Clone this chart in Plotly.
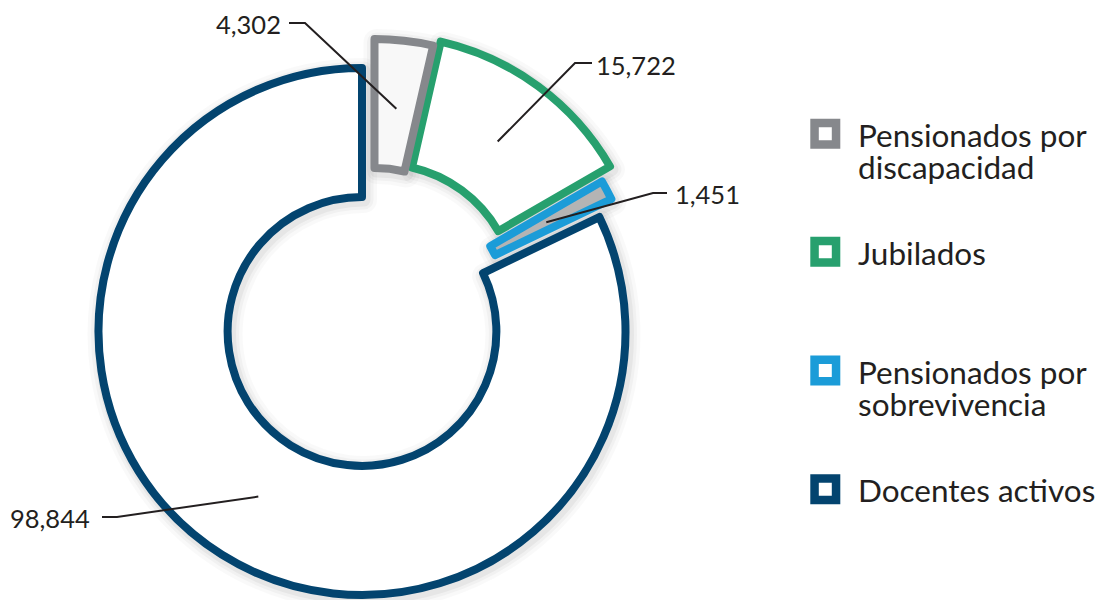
import math
import plotly.graph_objects as go

# ---------------- data ----------------
categories = ["Pensionados por discapacidad", "Jubilados",
              "Pensionados por sobrevivencia", "Docentes activos"]
legend_lines = [["Pensionados por", "discapacidad"], ["Jubilados"],
                ["Pensionados por", "sobrevivencia"], ["Docentes activos"]]
values = [4302, 15722, 1451, 98844]
value_labels = ["4,302", "15,722", "1,451", "98,844"]

# ---------------- style / layout constants ----------------
PAGE_MARGIN = 8              # default body margin of the html page
W, H = 1104 - PAGE_MARGIN, 600 - PAGE_MARGIN
CX, CY = 362, 331.5          # pie centre (window px)
R_OUT = 263.5                # outer radius (px)
HOLE = 0.51
LINE_W = 8
line_colors = ["#86888c", "#27a06e", "#1b9cd8", "#03446f"]
fill_colors = ["#f8f8f8", "#ffffff", "#b4b4b4", "#ffffff"]
shifts = [(12.5, -29), (20, -33), (12, -18), (0, 0)]   # exploded offset (px)
TEXT = "#231f20"
FONT = "Lato"

def px(x):
    return (x - PAGE_MARGIN) / W

def py(y):
    return 1 - (y - PAGE_MARGIN) / H

fig = go.Figure()

def slice_trace(i, dx, dy, fill, lcol, lw):
    n = len(values)
    colors = ["rgba(0,0,0,0)"] * n
    lcols = ["rgba(0,0,0,0)"] * n
    lws = [0] * n
    colors[i] = fill
    lcols[i] = lcol
    lws[i] = lw
    cx, cy = CX + dx, CY + dy
    return go.Pie(
        labels=categories, values=values, sort=False, direction="clockwise",
        rotation=0, hole=HOLE, textinfo="none", hoverinfo="skip",
        showlegend=False,
        marker=dict(colors=colors, line=dict(color=lcols, width=lws)),
        domain=dict(x=[px(cx - R_OUT), px(cx + R_OUT)],
                    y=[py(cy + R_OUT), py(cy - R_OUT)]),
    )

# soft shadows
for i in range(len(values)):
    dx, dy = shifts[i]
    for w_, a_ in [(26, 0.022), (19, 0.03), (13, 0.045)]:
        fig.add_trace(slice_trace(i, dx + 2, dy + 3, "rgba(0,0,0,0)",
                                  f"rgba(0,0,0,{a_})", w_))

# main slices (dark blue first)
for i in [3, 2, 1, 0]:
    dx, dy = shifts[i]
    fig.add_trace(slice_trace(i, dx, dy, fill_colors[i], line_colors[i], LINE_W))

# ---------------- leader lines & value labels ----------------
total = sum(values)
label_pos = [  # (text x, text y, anchor, elbow start, elbow end)
    (283, 24, "right", (289, 23), (305, 23)),
    (594, 65, "left", (592, 63), (575, 63)),
    (673, 194, "left", (667, 193), (653, 193)),
    (92, 518, "right", (102, 517), (117, 517)),
]
shapes = []
annotations = []
cum = 0
r_mid = R_OUT * (1 + HOLE) / 2 * 0.98
for i, v in enumerate(values):
    theta = math.radians(360 * (cum + v / 2) / total)
    cum += v
    dx, dy = shifts[i]
    ex = CX + dx + r_mid * math.sin(theta)
    ey = CY + dy - r_mid * math.cos(theta)
    tx, ty, anc, (x0, y0), (x1, y1) = label_pos[i]
    shapes.append(dict(
        type="path", xref="paper", yref="paper",
        path=f"M {px(x0)},{py(y0)} L {px(x1)},{py(y1)} L {px(ex)},{py(ey)}",
        line=dict(color=TEXT, width=2),
    ))
    annotations.append(dict(
        x=px(tx), y=py(ty), xref="paper", yref="paper", text=value_labels[i],
        showarrow=False, xanchor=anc, yanchor="middle",
        font=dict(family=FONT, size=25.5, color=TEXT),
    ))

# ---------------- legend (drawn) ----------------
legend_sq_y = [133.7, 251.7, 370.5, 489.3]
SQ = 21.5
for i, lines in enumerate(legend_lines):
    cy = legend_sq_y[i]
    shapes.append(dict(
        type="rect", xref="paper", yref="paper",
        x0=px(825.3 - SQ / 2), x1=px(825.3 + SQ / 2),
        y0=py(cy + SQ / 2), y1=py(cy - SQ / 2),
        fillcolor="white", line=dict(color=line_colors[i], width=8.5),
    ))
    for j, t in enumerate(lines):
        annotations.append(dict(
            x=px(856), y=py(cy + 1 + j * 32), xref="paper", yref="paper",
            text=t, showarrow=False, xanchor="left", yanchor="middle",
            font=dict(family=FONT, size=31.5, color=TEXT),
        ))

fig.update_layout(
    width=W, height=H, margin=dict(l=0, r=0, t=0, b=0),
    paper_bgcolor="white", plot_bgcolor="white",
    shapes=shapes, annotations=annotations, showlegend=False,
)

fig.write_html("out.html")
